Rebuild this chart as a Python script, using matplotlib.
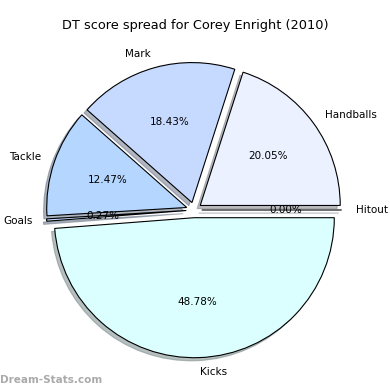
import matplotlib
matplotlib.use("Agg")
import matplotlib.pyplot as plt

# -----------------------------
# Data
# -----------------------------

labels = ["Handballs", "Mark", "Tackle", "Goals", "Kicks", "Hitout"]
percents = [20.05, 18.43, 12.47, 0.27, 48.78, 0.00]
colors = ["#EBF1FF", "#C6D9FF", "#B5D6FF", "#C0D8FF", "#DBFFFF", "#E0ECFF"]

TITLE = "DT score spread for Corey Enright (2010)"
WATERMARK = "Dream-Stats.com"

# -----------------------------
# Figure
# -----------------------------

fig = plt.figure(figsize=(3.9, 3.9), dpi=100)
ax = fig.add_axes([0, 0, 1, 1])

R_PX = 140.0
CX, CY = 194.0, 210.0

explode = [0.055] * len(percents)

wedges, texts, autotexts = ax.pie(
    percents,
    labels=labels,
    colors=colors,
    explode=explode,
    autopct="%1.2f%%",
    startangle=0,
    shadow={"ox": -0.016, "oy": -0.016, "shade": 0.5},
    labeldistance=1.1,
    pctdistance=0.6,
    wedgeprops={"edgecolor": "black", "linewidth": 0.8},
    textprops={"fontsize": 7.5},
)

for t in texts:
    t.set_va("center")

ax.set_xlim(-CX / R_PX, (390 - CX) / R_PX)
ax.set_ylim(-(390 - CY) / R_PX, CY / R_PX)
ax.set_aspect("auto")
ax.axis("off")

fig.text(0.5, 1 - 25 / 390, TITLE, ha="center", va="center", fontsize=9.3)
fig.text(0.0, 1 - 380 / 390, WATERMARK, ha="left", va="center",
         fontsize=7.5, fontweight="bold", color="#aaaaaa")

plt.savefig("out.png", dpi=100)
plt.close()
